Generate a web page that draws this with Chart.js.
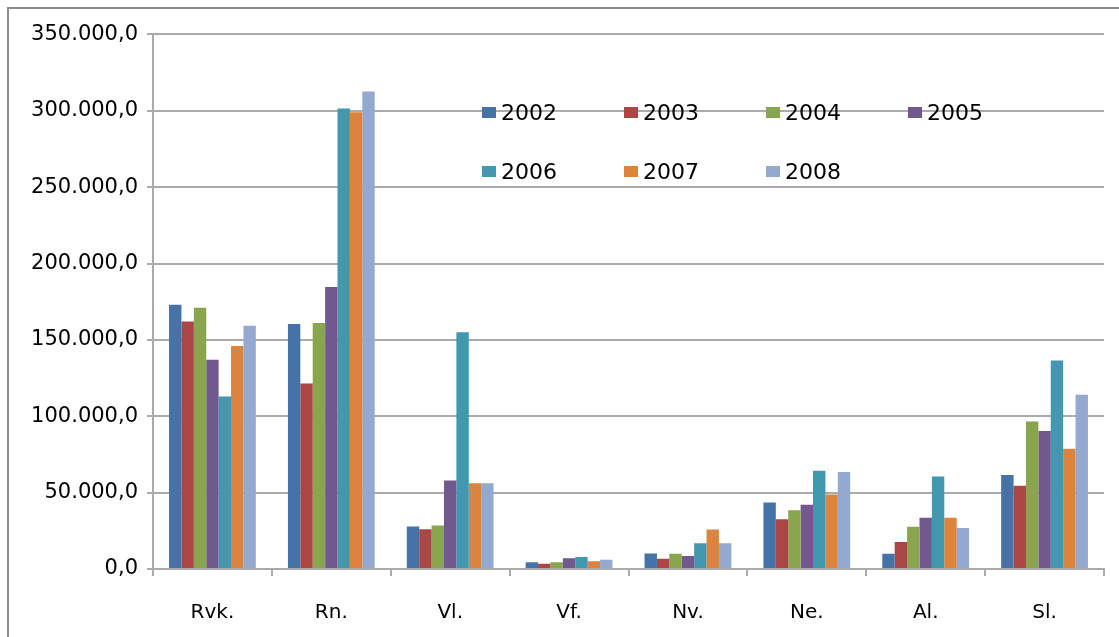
<!DOCTYPE html>
<html>
<head>
<meta charset="utf-8">
<script src="https://cdn.jsdelivr.net/npm/chart.js@4"></script>
<style>
  html, body { margin: 0; padding: 0; background: #fff; overflow: hidden; width: 1119px; height: 637px; }
  #frame { position: absolute; left: 7px; top: 7px; width: 1300px; height: 800px;
           border-top: 2px solid #8c8c8c; border-left: 2px solid #8c8c8c; }
  #wrap { position: absolute; left: 0; top: -29px; width: 1198px; height: 666px; }
  #legend { position: absolute; left: 482px; top: 83px; display: grid;
            grid-template-columns: repeat(4, 142px); grid-auto-rows: 59px; }
  .item { display: flex; align-items: center; font: 22px "DejaVu Sans"; color: #000; }
  .box { width: 14px; height: 11px; margin-right: 5px; }
</style>
</head>
<body>
<div id="frame"></div>
<div id="wrap"><canvas id="chart"></canvas></div>
<div id="legend"></div>
<script>
const regions = ['Rvk.', 'Rn.', 'Vl.', 'Vf.', 'Nv.', 'Ne.', 'Al.', 'Sl.']
const years = ['2002', '2003', '2004', '2005', '2006', '2007', '2008']
const colors = ['#4572A7', '#AA4643', '#89A54E', '#71588F', '#4198AF', '#DB843D', '#93A9CF']

// one array per year, in the order of regions
const v2002 = [173000, 160400, 27900, 4400, 10200, 43500, 10000, 61500]
const v2003 = [162000, 121500, 26100, 3500, 6700, 32600, 17600, 54500]
const v2004 = [171000, 161100, 28500, 4400, 10000, 38500, 27600, 96500]
const v2005 = [137000, 184600, 57900, 7000, 8500, 42000, 33500, 90300]
const v2006 = [113000, 301500, 155000, 7800, 16800, 64400, 60500, 136500]
const v2007 = [146000, 299100, 56200, 5000, 25900, 48800, 33500, 78800]
const v2008 = [159300, 312600, 56200, 6100, 16800, 63500, 26800, 114100]
const series = [v2002, v2003, v2004, v2005, v2006, v2007, v2008]

const gridColor = '#ababab'

const chart = new Chart(document.getElementById('chart'), {
  type: 'bar',
  data: {
    labels: regions,
    datasets: years.map((y, i) => ({
      label: y,
      data: series[i],
      backgroundColor: colors[i],
      borderWidth: 0,
      categoryPercentage: 0.73,
      barPercentage: 1
    }))
  },
  options: {
    responsive: true,
    maintainAspectRatio: false,
    animation: false,
    layout: { padding: 0 },
    plugins: {
      legend: { display: false },
      tooltip: { enabled: false },
      title: {
        display: true,
        text: 'árunum 2002-2008',
        color: '#000',
        font: { family: '"DejaVu Sans"', size: 32, weight: 'bold' },
        padding: { top: 0, bottom: 25 }
      }
    },
    scales: {
      x: {
        afterFit: s => { s.height = 68 },
        grid: { drawOnChartArea: false, drawTicks: true, tickLength: 7, color: gridColor, lineWidth: 2, offset: true },
        border: { color: gridColor, width: 2 },
        ticks: { color: '#000', font: { family: '"DejaVu Sans"', size: 20 }, padding: 25, maxRotation: 0 }
      },
      y: {
        min: 0,
        max: 350000,
        afterFit: s => { s.width = 153 },
        grid: { color: gridColor, lineWidth: 2, tickLength: 6 },
        border: { color: gridColor, width: 2 },
        ticks: {
          stepSize: 50000,
          color: '#000',
          font: { family: '"DejaVu Sans"', size: 21 },
          padding: 9,
          callback: v => v.toLocaleString('de-DE', { minimumFractionDigits: 1, maximumFractionDigits: 1 })
        }
      },
      // empty spacer on the right so the title centres on the whole frame
      spacer: {
        position: 'right',
        afterFit: s => { s.width = 94 },
        grid: { display: false },
        border: { display: false },
        ticks: { display: false }
      }
    }
  }
})

// legend inside plot area, 4 columns
const leg = document.getElementById('legend')
chart.data.datasets.forEach(ds => {
  const it = document.createElement('div')
  it.className = 'item'
  it.innerHTML = '<span class="box" style="background:' + ds.backgroundColor + '"></span>' + ds.label
  leg.appendChild(it)
})
</script>
</body>
</html>
